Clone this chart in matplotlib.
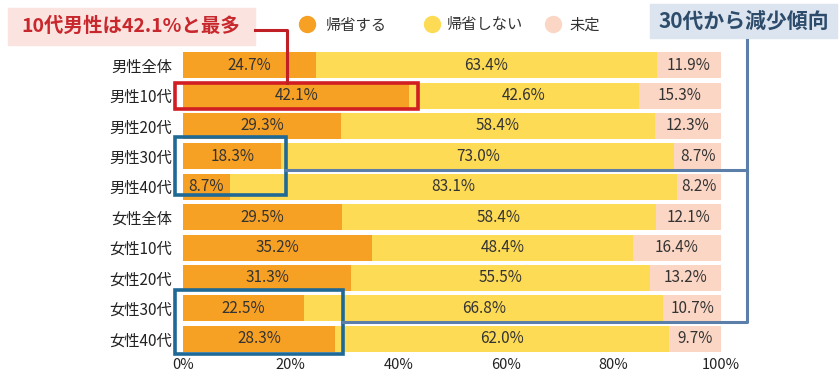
import matplotlib.pyplot as plt
from matplotlib.patches import Rectangle
from matplotlib.lines import Line2D
import numpy as np

plt.rcParams['font.family'] = ['Noto Sans CJK JP', 'DejaVu Sans']

categories = ['男性全体', '男性10代', '男性20代', '男性30代', '男性40代',
              '女性全体', '女性10代', '女性20代', '女性30代', '女性40代']
go_home = [24.7, 42.1, 29.3, 18.3, 8.7, 29.5, 35.2, 31.3, 22.5, 28.3]
no_home = [63.4, 42.6, 58.4, 73.0, 83.1, 58.4, 48.4, 55.5, 66.8, 62.0]
undecided = [11.9, 15.3, 12.3, 8.7, 8.2, 12.1, 16.4, 13.2, 10.7, 9.7]
series_names = ['帰省する', '帰省しない', '未定']
colors = ['#F6A124', '#FDDB55', '#FBD6C4']
xticks = [0, 20, 40, 60, 80, 100]

W, H = 840, 375
fig = plt.figure(figsize=(8.4, 3.75), dpi=100)

def fx(px):
    return px / W

def fy(py):
    return 1 - py / H

ax = fig.add_axes([fx(183), fy(354), fx(721) - fx(183), fy(50) - fy(354)])

y = np.arange(len(categories))
left = np.zeros(len(categories))
for vals, name, col in zip([go_home, no_home, undecided], series_names, colors):
    vals = np.array(vals)
    bars = ax.barh(y, vals, left=left, height=0.86, color=col, label=name)
    ax.bar_label(bars, labels=[f'{v:.1f}%' for v in vals], label_type='center',
                 fontsize=11, color='#333333')
    left = left + vals

ax.set_xlim(0, 100)
ax.set_ylim(len(categories) - 0.5, -0.5)
ax.set_yticks(y)
ax.set_yticklabels(categories, fontsize=11, color='#222222')
ax.set_xticks(xticks)
ax.set_xticklabels([f'{t}%' for t in xticks], fontsize=10.5, color='#222222')
ax.tick_params(axis='y', length=0, pad=8)
ax.tick_params(axis='x', length=0, pad=3)
for s in ax.spines.values():
    s.set_visible(False)

# legend
leg_pos = [(307, 326), (432, 447), (553, 570)]
for (mx, tx), name, col in zip(leg_pos, series_names, colors):
    fig.add_artist(Line2D([fx(mx)], [fy(24)], marker='o', markersize=11.5,
                          color=col, transform=fig.transFigure))
    fig.text(fx(tx), fy(25), name, fontsize=11, va='center', ha='left', color='#333333')

# red callout
fig.add_artist(Rectangle((fx(8), fy(45)), fx(247), fy(8) - fy(45),
                         transform=fig.transFigure, color='#FBE4DF', zorder=1))
fig.text(fx(131), fy(26), '10代男性は42.1%と最多', fontsize=14, fontweight='bold',
         color='#C8282D', ha='center', va='center')
fig.add_artist(Line2D([fx(255), fx(287), fx(287)], [fy(30), fy(30), fy(83)],
                      color='#C01F25', lw=2.2, transform=fig.transFigure))
ax.add_patch(Rectangle((-1.5, 0.57), 45.2, 0.86, fill=False, edgecolor='#D01E22',
                       lw=2.6, clip_on=False, zorder=5))

# blue callout
fig.add_artist(Rectangle((fx(650), fy(38)), fx(187), fy(4) - fy(38),
                         transform=fig.transFigure, color='#DCE5EF', zorder=1))
fig.text(fx(744), fy(21), '30代から減少傾向', fontsize=15, fontweight='bold',
         color='#2D4B6B', ha='center', va='center')
fig.add_artist(Line2D([fx(286), fx(747), fx(747), fx(343)],
                      [fy(170), fy(170), fy(322), fy(322)],
                      color='#5B7FA8', lw=2.2, transform=fig.transFigure))
fig.add_artist(Line2D([fx(747), fx(747)], [fy(40), fy(170)],
                      color='#5B7FA8', lw=2.2, transform=fig.transFigure))
ax.add_patch(Rectangle((-1.5, 2.37), 20.6, 1.9, fill=False, edgecolor='#1F6996',
                       lw=2.6, clip_on=False, zorder=5))
ax.add_patch(Rectangle((-1.5, 7.39), 31.2, 2.12, fill=False, edgecolor='#1F6996',
                       lw=2.6, clip_on=False, zorder=5))

fig.savefig('out.png', dpi=100)
